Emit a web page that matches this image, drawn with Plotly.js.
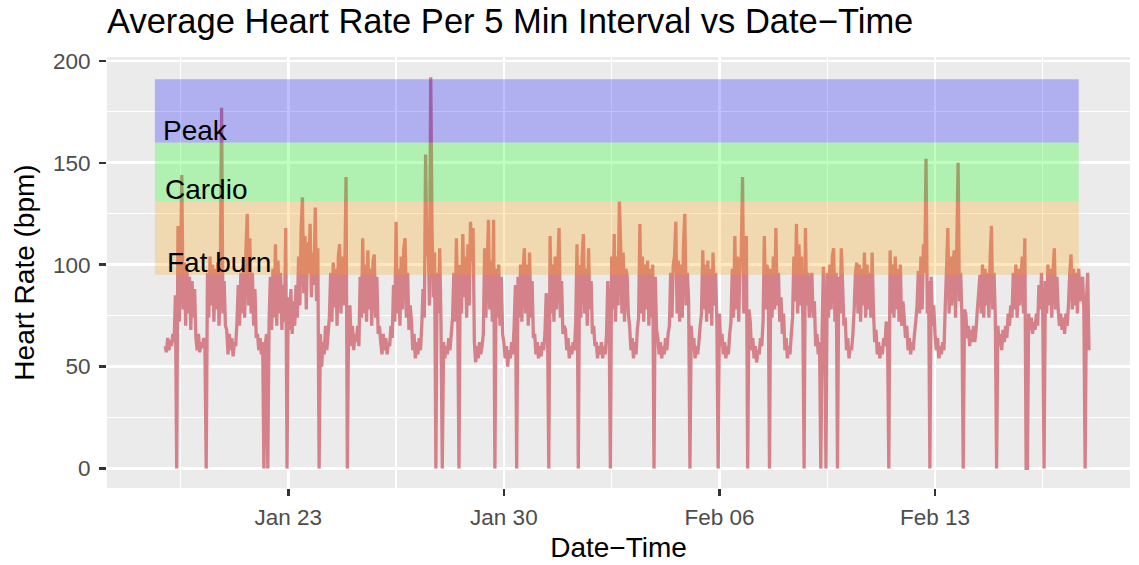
<!DOCTYPE html>
<html>
<head>
<meta charset="utf-8">
<script src="https://cdn.plot.ly/plotly-3.0.1.min.js"></script>
<style>
  html, body { margin: 0; padding: 0; background: #ffffff; }
  #chart { width: 1139px; height: 565px; }
</style>
</head>
<body>
<div id="chart"></div>
<script>
// ---- Data (hourly averages) ----
const seriesStart = '2020-01-19 00:00:00';   // first sample
const stepHours = 1;

const week1 = [
  60,57,64,58,63,60,66,62,85,0,119,72,96,144,78,101,70,98,76,94,68,92,74,88,
  64,58,66,57,62,59,64,61,0,96,74,104,80,100,72,98,78,101,70,94,177,76,92,70,
  68,56,66,58,64,55,62,60,72,90,70,96,76,102,74,108,125,80,113,76,96,70,88,64,
  66,58,64,56,62,0,60,66,0,72,94,68,98,74,110,70,102,76,96,68,90,72,118,0,
  84,68,88,66,82,70,90,74,104,80,118,133,86,114,78,111,96,120,84,106,90,128,82,108,
  0,66,50,62,56,70,58,66,74,96,72,101,79,98,70,104,110,76,104,80,96,143,0,72,
  80,60,70,58,66,62,70,60,94,74,113,76,100,72,107,78,98,70,102,105,74,94,66,70
];
const week2 = [
  62,56,66,58,64,56,62,60,70,64,90,72,121,76,98,70,104,78,108,113,74,96,68,80,
  72,58,66,54,62,56,64,58,70,88,74,154,104,112,80,192,118,84,106,0,96,76,108,70,
  0,62,54,60,56,64,58,66,74,96,72,113,80,0,100,76,115,84,104,74,110,80,121,102,
  118,62,52,60,54,62,56,60,66,108,74,100,122,78,102,72,122,0,98,74,100,70,94,66,
  62,54,60,50,58,54,62,56,70,90,0,94,74,100,72,98,108,76,100,70,106,74,92,64,
  66,56,62,54,60,55,62,58,66,86,72,0,114,76,100,72,104,78,98,118,74,92,66,70,
  68,58,64,54,60,56,62,58,72,110,0,100,74,104,115,76,98,70,108,78,92,66,70,60
];
const week3 = [
  62,54,60,56,62,54,60,56,66,92,74,0,104,78,115,72,104,80,131,110,76,106,72,98,
  95,76,70,58,64,54,62,56,68,74,120,76,104,72,100,78,102,70,98,74,100,0,94,68,
  64,56,62,54,60,56,64,58,66,70,96,74,100,104,121,76,102,72,100,74,110,125,80,96,
  82,0,70,58,64,54,60,56,62,70,76,107,78,100,72,102,76,98,70,106,80,96,72,0,
  76,60,66,56,62,54,60,56,66,72,98,74,114,78,104,72,100,104,143,76,100,114,0,78,
  72,58,64,54,60,52,58,56,64,60,72,114,78,100,96,0,98,74,104,78,118,80,96,72,
  84,66,76,58,64,54,60,56,66,74,104,82,120,76,110,80,104,74,0,118,80,96,74,90
];
const week4 = [
  96,74,82,60,66,56,62,0,66,99,72,0,96,74,100,78,104,108,72,96,0,94,76,108,
  90,70,74,58,64,54,60,58,66,78,96,101,76,100,72,98,80,106,74,100,78,96,74,106,
  78,62,68,56,62,54,60,56,64,60,72,66,0,107,76,100,74,104,78,98,72,100,70,82,
  74,64,70,58,64,56,62,58,66,72,80,97,76,104,78,110,96,152,76,92,0,94,70,80,
  66,58,64,54,60,56,62,58,80,98,118,76,104,80,100,107,74,110,150,82,96,74,0,78,
  76,64,70,60,68,62,70,62,68,78,86,95,76,100,74,98,80,96,74,104,119,78,96,74,
  0,70,60,66,58,68,62,70,64,76,70,80,74,96,78,100,74,98,80,94,104,76,113,0
];
const week5 = [
  0,76,68,74,66,72,68,76,70,90,78,96,74,0,92,76,100,80,98,74,98,108,78,94,
  78,70,76,68,74,66,76,70,80,96,105,78,98,80,96,76,98,82,90,94,78,0,82,96,
  58
];

// Heart-rate zones
const zoneNames  = ['Fat burn', 'Cardio', 'Peak'];
const zoneLower  = [95, 131, 160];
const zoneUpper  = [131, 160, 191];
const zoneColors = ['orange', '#00ff00', 'blue'];
const zoneStart  = '2020-01-18 16:00:00';
const zoneEnd    = '2020-02-17 16:00:00';
const zoneLabelX = ['2020-01-20 18:00:00', '2020-01-20 08:00:00', '2020-01-19 23:30:00'];
const zoneLabelY = [101, 137, 166];

// Axis ticks
const xTickVals  = ['2020-01-23', '2020-01-30', '2020-02-06', '2020-02-13'];
const xMinorVals = ['2020-01-19 12:00', '2020-01-26 12:00', '2020-02-02 12:00', '2020-02-09 12:00', '2020-02-16 12:00'];
const yTickVals  = [0, 50, 100, 150, 200];
const yMinorVals = [25, 75, 125, 175];

// ---- Build series ----
const hr = [].concat(week1, week2, week3, week4, week5);
const t0 = Date.parse(seriesStart.replace(' ', 'T') + 'Z');
const times = hr.map((_, i) =>
  new Date(t0 + i * stepHours * 3600000).toISOString().slice(0, 19).replace('T', ' '));

const FONT = 'Liberation Sans, Arial, Helvetica, sans-serif';

const trace = {
  x: times, y: hr, type: 'scatter', mode: 'lines',
  line: { color: '#D4818A', width: 3.3, simplify: false },
  hoverinfo: 'skip', showlegend: false
};

const shapes = zoneNames.map((n, i) => ({
  type: 'rect', xref: 'x', yref: 'y', layer: 'above',
  x0: zoneStart, x1: zoneEnd, y0: zoneLower[i], y1: zoneUpper[i],
  fillcolor: zoneColors[i], opacity: 0.25, line: { width: 0 }
}));

const annotations = zoneNames.map((n, i) => ({
  x: zoneLabelX[i], y: zoneLabelY[i], xref: 'x', yref: 'y',
  text: n, showarrow: false, xanchor: 'center', yanchor: 'middle',
  font: { family: FONT, size: 28, color: '#000000' }
}));

const layout = {
  width: 1139, height: 565,
  margin: { l: 107, r: 9, t: 57, b: 77, pad: 0 },
  paper_bgcolor: '#ffffff', plot_bgcolor: '#EBEBEB',
  font: { family: FONT },
  title: {
    text: 'Average Heart Rate Per 5 Min Interval vs Date\u2212Time',
    font: { family: FONT, size: 34.5, color: '#000000' },
    x: 0, xref: 'paper', xanchor: 'left',
    y: 1 - 21 / 565, yref: 'container', yanchor: 'middle'
  },
  xaxis: {
    type: 'date',
    range: ['2020-01-17 02:42:00', '2020-02-19 07:58:00'],
    tickmode: 'array', tickvals: xTickVals, tickformat: '%b %d',
    ticks: 'outside', ticklen: 7, tickwidth: 2.4, tickcolor: '#333333',
    ticklabelstandoff: 2,
    tickfont: { family: FONT, size: 22.5, color: '#4D4D4D' },
    showgrid: true, gridcolor: '#ffffff', gridwidth: 2.6,
    minor: { tickmode: 'array', tickvals: xMinorVals, showgrid: true, gridcolor: '#ffffff', gridwidth: 1.3, ticklen: 0 },
    zeroline: false, showline: false, fixedrange: true,
    title: { text: 'Date\u2212Time', font: { family: FONT, size: 28, color: '#000000' }, standoff: 8 }
  },
  yaxis: {
    range: [-9.6, 201.9],
    tickmode: 'array', tickvals: yTickVals,
    ticks: 'outside', ticklen: 7, tickwidth: 2.4, tickcolor: '#333333',
    ticklabelstandoff: 4,
    tickfont: { family: FONT, size: 22.5, color: '#4D4D4D' },
    showgrid: true, gridcolor: '#ffffff', gridwidth: 2.6,
    minor: { tickmode: 'array', tickvals: yMinorVals, showgrid: true, gridcolor: '#ffffff', gridwidth: 1.3, ticklen: 0 },
    zeroline: false, showline: false, fixedrange: true,
    title: { text: 'Heart Rate (bpm)', font: { family: FONT, size: 28, color: '#000000' }, standoff: 10 }
  },
  shapes: shapes,
  annotations: annotations,
  showlegend: false
};

Plotly.newPlot('chart', [trace], layout, { displayModeBar: false, staticPlot: true });
</script>
</body>
</html>
